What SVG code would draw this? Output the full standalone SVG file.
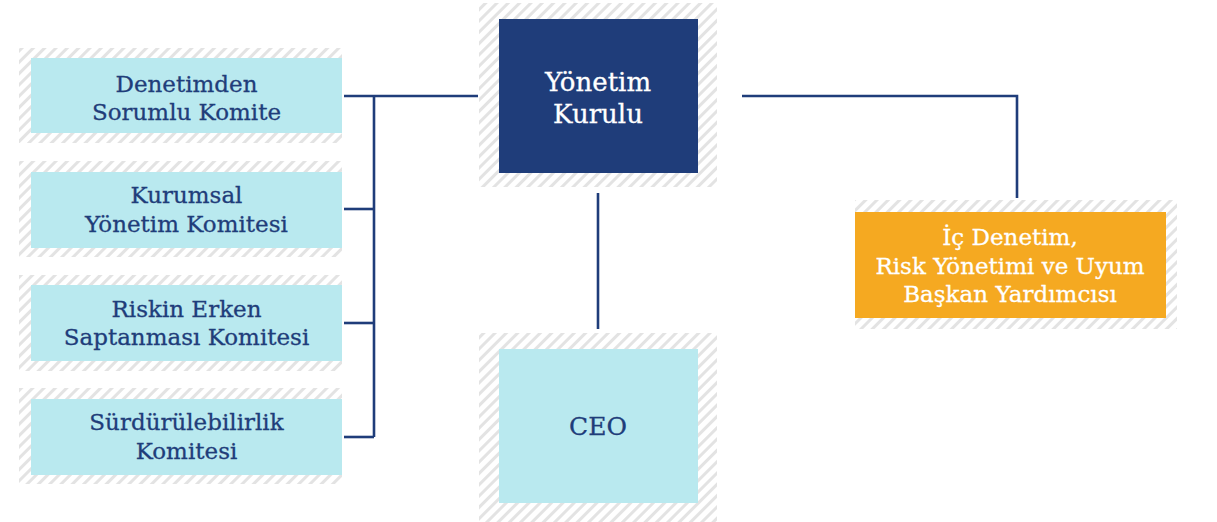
<svg xmlns="http://www.w3.org/2000/svg" width="1217" height="522" viewBox="0 0 1217 522">
<defs>
<pattern id="hatch" patternUnits="userSpaceOnUse" width="8" height="8" patternTransform="rotate(45)">
<rect width="8" height="8" fill="#ffffff"/>
<rect x="0" y="0" width="3" height="8" fill="#e3e3e3"/>
</pattern>
</defs>
<style>
.hatch{fill:url(#hatch)}
.cyan{fill:#b9e9ef}
.navy{fill:#1f3d7a}
.orange{fill:#f5a921}
.t{font-family:"DejaVu Serif","Liberation Serif",serif;font-size:23px;text-anchor:middle;fill:#1f3d7a;stroke:#1f3d7a;stroke-width:0.3}
.tw{font-family:"DejaVu Serif","Liberation Serif",serif;font-size:23px;text-anchor:middle;fill:#ffffff;stroke:#ffffff;stroke-width:0.3}
.big{font-size:26px}
.ceo{font-size:25px}
.conn{fill:none;stroke:#1f3d7a;stroke-width:2.6}
</style>
<rect width="1217" height="522" fill="#ffffff"/>
<g id="connectors">
<path class="conn" d="M344 96 H478"/>
<path class="conn" d="M374 96 V437"/>
<path class="conn" d="M344 209 H374"/>
<path class="conn" d="M344 323 H374"/>
<path class="conn" d="M344 437 H374"/>
<path class="conn" d="M742 96 H1017 V198"/>
<path class="conn" d="M598 193 V329"/>
</g>
<g id="yonetim-kurulu">
<rect class="hatch" x="479" y="3" width="238" height="184"/>
<rect class="navy" x="499" y="19" width="199" height="154"/>
<text class="tw big" x="598" y="91">Yönetim</text>
<text class="tw big" x="598" y="123">Kurulu</text>
</g>
<g id="ceo">
<rect class="hatch" x="479" y="333" width="238" height="189"/>
<rect class="cyan" x="499" y="349" width="199" height="154"/>
<text class="t ceo" x="598" y="435">CEO</text>
</g>
<g id="ic-denetim">
<rect class="hatch" x="855" y="200" width="322" height="129"/>
<rect class="orange" x="855" y="212" width="311" height="106"/>
<text class="tw" x="1010" y="245">İç Denetim,</text>
<text class="tw" x="1010" y="274">Risk Yönetimi ve Uyum</text>
<text class="tw" x="1010" y="302">Başkan Yardımcısı</text>
</g>
<g id="denetimden">
<rect class="hatch" x="19" y="48" width="323" height="95"/>
<rect class="cyan" x="31" y="58" width="311" height="75"/>
<text class="t" x="186.5" y="92">Denetimden</text>
<text class="t" x="186.5" y="120">Sorumlu Komite</text>
</g>
<g id="kurumsal">
<rect class="hatch" x="19" y="161" width="323" height="96"/>
<rect class="cyan" x="31" y="172" width="311" height="76"/>
<text class="t" x="186.5" y="203">Kurumsal</text>
<text class="t" x="186.5" y="232">Yönetim Komitesi</text>
</g>
<g id="riskin">
<rect class="hatch" x="19" y="275" width="323" height="96"/>
<rect class="cyan" x="31" y="285" width="311" height="76"/>
<text class="t" x="186.5" y="317">Riskin Erken</text>
<text class="t" x="186.5" y="345">Saptanması Komitesi</text>
</g>
<g id="surdurulebilirlik">
<rect class="hatch" x="19" y="388" width="323" height="96"/>
<rect class="cyan" x="31" y="399" width="311" height="76"/>
<text class="t" x="186.5" y="430">Sürdürülebilirlik</text>
<text class="t" x="186.5" y="459">Komitesi</text>
</g>
</svg>
